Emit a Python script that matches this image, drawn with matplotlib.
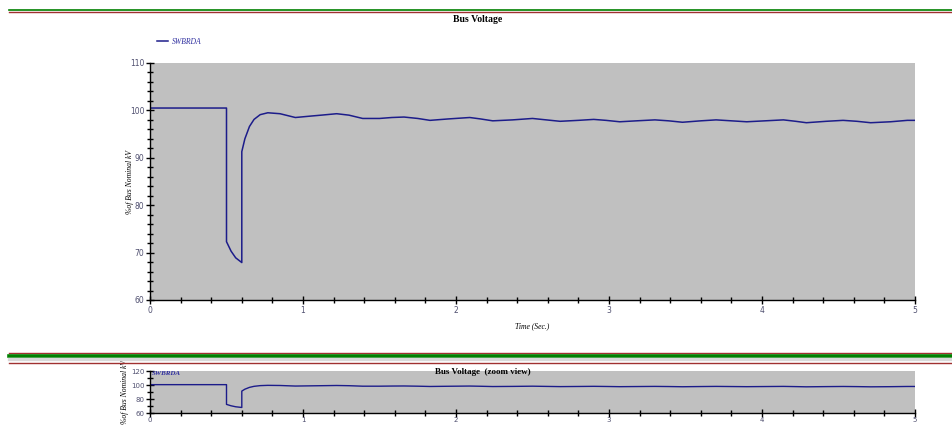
import matplotlib.pyplot as plt
from matplotlib.lines import Line2D
from matplotlib.ticker import MultipleLocator

# values (% of bus nominal kV vs time in s)
time_s = [0.0, 0.5, 0.5, 0.53, 0.56, 0.6, 0.6, 0.62, 0.65, 0.68, 0.72, 0.77,
          0.85, 0.95, 1.05, 1.12, 1.22, 1.30, 1.39, 1.50, 1.58, 1.66, 1.75,
          1.83, 1.95, 2.09, 2.16, 2.24, 2.37, 2.50, 2.59, 2.68, 2.80, 2.90,
          2.98, 3.07, 3.18, 3.30, 3.39, 3.48, 3.60, 3.70, 3.80, 3.90, 4.02,
          4.14, 4.22, 4.29, 4.42, 4.53, 4.62, 4.71, 4.84, 4.95, 5.0]
voltage_pct = [100.5, 100.5, 72.3, 70.3, 68.9, 67.9, 91.3, 94.0, 96.6, 98.1,
               99.1, 99.5, 99.3, 98.5, 98.8, 99.0, 99.3, 99.0, 98.3, 98.3,
               98.5, 98.6, 98.3, 97.9, 98.2, 98.5, 98.2, 97.8, 98.0, 98.3,
               98.0, 97.7, 97.9, 98.1, 97.9, 97.6, 97.8, 98.0, 97.8, 97.5,
               97.8, 98.0, 97.8, 97.6, 97.8, 98.0, 97.7, 97.4, 97.7, 97.9,
               97.7, 97.4, 97.6, 97.9, 97.9]
series_name = "SWBRDA"

W, H = 952, 425
LINE_COLOR = "#1c1c8a"
TICK_COLOR = "#505070"
SERIF = "Liberation Serif"


def fx(px):
    return px / W


def fy(py):
    return 1 - py / H


def style_axes(ax, ymin, ymax, ymajor, yminor, labelsize=5.5):
    ax.set_facecolor("#c0c0c0")
    ax.set_xlim(0, 5)
    ax.set_ylim(ymin, ymax)
    for side in ("top", "right"):
        ax.spines[side].set_visible(False)
    for side in ("left", "bottom"):
        ax.spines[side].set_linewidth(1.0)
    ax.xaxis.set_major_locator(MultipleLocator(1))
    ax.xaxis.set_minor_locator(MultipleLocator(0.2))
    ax.yaxis.set_major_locator(MultipleLocator(ymajor))
    ax.yaxis.set_minor_locator(MultipleLocator(yminor))
    ax.tick_params(which="major", direction="inout", length=6, width=1,
                   labelsize=labelsize, labelcolor=TICK_COLOR, pad=1)
    ax.tick_params(which="minor", direction="inout", length=4, width=1)


def draw_rule(y, color, lw):
    fig.add_artist(Line2D([fx(9), 1], [fy(y), fy(y)], color=color, lw=lw,
                          transform=fig.transFigure))


fig = plt.figure(figsize=(W / 100, H / 100), dpi=100)

# decorative rules between panels
draw_rule(10.3, "#008000", 1.2)
draw_rule(12.3, "#a03030", 1.0)
draw_rule(353.3, "#a03030", 1.0)
draw_rule(355.5, "#008000", 2.6)
draw_rule(359.0, "#d8d8d8", 2.4)
draw_rule(362.5, "#a03030", 1.0)

# main panel
ax = fig.add_axes([fx(150), fy(300), fx(915) - fx(150), fy(63) - fy(300)])
style_axes(ax, 60, 110, 10, 2)
ax.plot(time_s, voltage_pct, color=LINE_COLOR, lw=1.1, label=series_name)
ax.set_xlabel("Time (Sec.)", family=SERIF, style="italic", fontsize=5.5)
ax.xaxis.set_label_coords(0.5, -0.093)
ax.set_ylabel("%of Bus Nominal kV", family=SERIF, style="italic", fontsize=5.5)
ax.yaxis.set_label_coords(-0.021, 0.5)
fig.text(fx(478), fy(20), "Bus Voltage", family=SERIF, weight="bold",
         fontsize=7, ha="center", va="center")
fig.legend(loc="center left", bbox_to_anchor=(fx(150), fy(42)), frameon=False,
           handlelength=1.4, handletextpad=0.6, labelcolor="#3030a0",
           prop={"family": SERIF, "style": "italic", "size": 5.5})

# zoom view panel
ax2 = fig.add_axes([fx(150), fy(413), fx(915) - fx(150), fy(371) - fy(413)])
style_axes(ax2, 60, 120, 20, 10, labelsize=5)
ax2.tick_params(axis="x", which="major", pad=0)
ax2.plot(time_s, voltage_pct, color=LINE_COLOR, lw=1.0)
ax2.set_ylabel("%of Bus Nominal kV", family=SERIF, style="italic", fontsize=5.5)
ax2.yaxis.set_label_coords(-0.027, 0.5)
ax2.text(0.003, 0.93, series_name, transform=ax2.transAxes, family=SERIF,
         style="italic", weight="bold", fontsize=5, color="#3030a0",
         va="center")
fig.text(fx(483), fy(372), "Bus Voltage  (zoom view)", family=SERIF,
         weight="bold", fontsize=6.5, ha="center", va="center")

fig.savefig("out.png", dpi=100)
